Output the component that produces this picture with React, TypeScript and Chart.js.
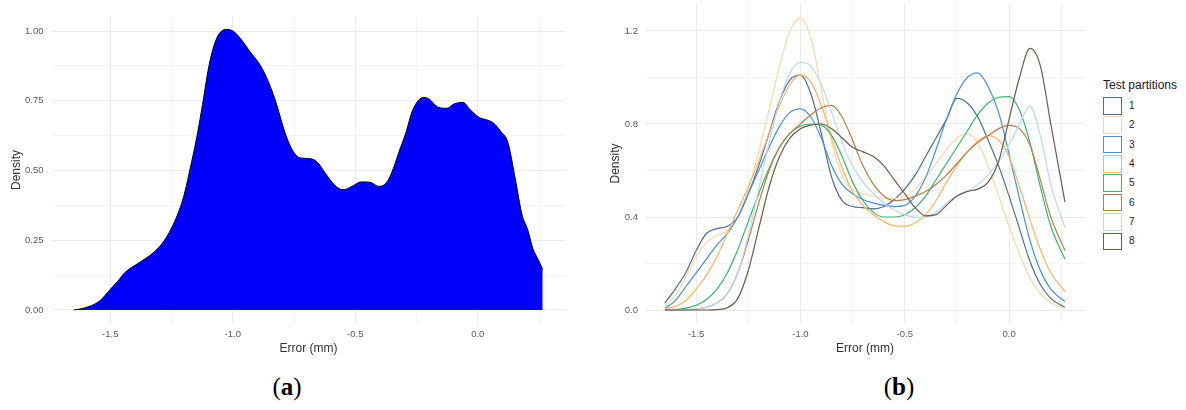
import React, { useEffect, useRef } from 'react';
import { Chart, registerables } from 'chart.js';

Chart.register(...registerables);

// ---------- Panel (a): overall error density ----------
const errA = [-1.649, -1.602, -1.544, -1.5, -1.463, -1.442, -1.383, -1.325, -1.281, -1.237, -1.2, -1.178, -1.149, -1.127, -1.098, -1.076, -1.054, -1.025, -0.996, -0.959, -0.93, -0.893, -0.864, -0.827, -0.784, -0.754, -0.725, -0.681, -0.652, -0.623, -0.586, -0.55, -0.513, -0.477, -0.44, -0.404, -0.374, -0.352, -0.323, -0.294, -0.265, -0.221, -0.199, -0.162, -0.126, -0.096, -0.06, -0.031, 0.006, 0.035, 0.064, 0.094, 0.123, 0.152, 0.181, 0.203, 0.225, 0.247, 0.265];
const densA = [0, 0.008, 0.032, 0.074, 0.11, 0.133, 0.169, 0.205, 0.247, 0.318, 0.408, 0.491, 0.61, 0.718, 0.872, 0.95, 0.992, 1.006, 0.998, 0.962, 0.926, 0.884, 0.837, 0.753, 0.628, 0.569, 0.545, 0.542, 0.527, 0.491, 0.449, 0.431, 0.443, 0.459, 0.458, 0.443, 0.455, 0.491, 0.563, 0.634, 0.718, 0.762, 0.756, 0.727, 0.723, 0.739, 0.744, 0.718, 0.69, 0.682, 0.67, 0.64, 0.6, 0.475, 0.34, 0.29, 0.22, 0.18, 0.145];

const xMajorA = [-1.5, -1.0, -0.5, 0.0];
const xMajorLabelsA = ['-1.5', '-1.0', '-0.5', '0.0'];
const xMinorA = [-1.25, -0.75, -0.25, 0.25];
const yMajorA = [0, 0.25, 0.5, 0.75, 1.0];
const yMajorLabelsA = ['0.00', '0.25', '0.50', '0.75', '1.00'];
const yMinorA = [0.125, 0.375, 0.625, 0.875];

// ---------- Panel (b): density per test partition ----------
const errB = [-1.65, -1.6, -1.55, -1.5, -1.45, -1.4, -1.35, -1.3, -1.25, -1.2, -1.15, -1.1, -1.05, -1.0, -0.95, -0.9, -0.85, -0.8, -0.75, -0.7, -0.65, -0.6, -0.55, -0.5, -0.45, -0.4, -0.35, -0.3, -0.25, -0.2, -0.15, -0.1, -0.05, 0.0, 0.05, 0.1, 0.15, 0.2, 0.268];
const part1 = [0.03, 0.09, 0.16, 0.255, 0.33, 0.35, 0.36, 0.40, 0.50, 0.62, 0.76, 0.90, 0.99, 1.01, 0.93, 0.76, 0.57, 0.47, 0.445, 0.44, 0.435, 0.445, 0.475, 0.52, 0.58, 0.66, 0.74, 0.82, 0.91, 0.89, 0.83, 0.73, 0.62, 0.49, 0.35, 0.21, 0.11, 0.05, 0.011];
const part2 = [0.017, 0.06, 0.14, 0.23, 0.29, 0.32, 0.34, 0.40, 0.52, 0.68, 0.86, 1.05, 1.20, 1.255, 1.17, 0.95, 0.72, 0.58, 0.52, 0.50, 0.49, 0.48, 0.48, 0.49, 0.52, 0.57, 0.63, 0.69, 0.74, 0.76, 0.72, 0.62, 0.49, 0.36, 0.24, 0.14, 0.07, 0.03, 0.007];
const part3 = [0.008, 0.04, 0.10, 0.16, 0.22, 0.28, 0.33, 0.40, 0.50, 0.60, 0.70, 0.79, 0.85, 0.865, 0.83, 0.74, 0.62, 0.54, 0.50, 0.475, 0.46, 0.45, 0.445, 0.45, 0.49, 0.57, 0.69, 0.82, 0.93, 1.00, 1.02, 0.96, 0.85, 0.67, 0.48, 0.30, 0.17, 0.09, 0.036];
const part4 = [0.005, 0.015, 0.04, 0.09, 0.15, 0.23, 0.33, 0.43, 0.53, 0.64, 0.76, 0.88, 0.97, 1.01, 0.98, 0.88, 0.74, 0.61, 0.51, 0.45, 0.41, 0.38, 0.362, 0.36, 0.375, 0.41, 0.47, 0.55, 0.62, 0.68, 0.725, 0.75, 0.73, 0.66, 0.53, 0.39, 0.26, 0.16, 0.079];
const part5 = [0, 0.002, 0.008, 0.02, 0.045, 0.09, 0.16, 0.26, 0.38, 0.50, 0.61, 0.70, 0.76, 0.79, 0.80, 0.795, 0.75, 0.66, 0.55, 0.47, 0.42, 0.40, 0.40, 0.41, 0.44, 0.49, 0.56, 0.63, 0.70, 0.77, 0.84, 0.89, 0.915, 0.918, 0.86, 0.72, 0.53, 0.36, 0.218];
const part6 = [0, 0, 0.001, 0.004, 0.012, 0.03, 0.07, 0.16, 0.30, 0.46, 0.60, 0.70, 0.76, 0.80, 0.84, 0.87, 0.88, 0.83, 0.73, 0.62, 0.54, 0.49, 0.47, 0.475, 0.49, 0.51, 0.54, 0.58, 0.63, 0.68, 0.72, 0.75, 0.78, 0.794, 0.78, 0.71, 0.56, 0.40, 0.255];
const part7 = [0, 0, 0.002, 0.005, 0.012, 0.03, 0.07, 0.16, 0.32, 0.52, 0.72, 0.90, 1.02, 1.065, 1.05, 0.97, 0.85, 0.72, 0.62, 0.55, 0.50, 0.46, 0.43, 0.41, 0.40, 0.40, 0.42, 0.46, 0.49, 0.51, 0.54, 0.58, 0.64, 0.71, 0.80, 0.877, 0.75, 0.54, 0.354];
const part8 = [0, 0, 0, 0, 0, 0.002, 0.01, 0.05, 0.17, 0.35, 0.53, 0.66, 0.74, 0.78, 0.795, 0.80, 0.78, 0.74, 0.70, 0.68, 0.66, 0.62, 0.56, 0.50, 0.44, 0.405, 0.41, 0.45, 0.49, 0.51, 0.52, 0.55, 0.64, 0.82, 1.0, 1.125, 1.05, 0.80, 0.464];
const partSeries = [part1, part2, part3, part4, part5, part6, part7, part8];
const partLabels = ['1', '2', '3', '4', '5', '6', '7', '8'];
const partColors = ['#4e6d93', '#ffd5ad', '#4a8fdc', '#fdb366', '#3cb470', '#b47f48', '#bcd8f5', '#6d5b4c'];

const xMajorB = [-1.5, -1.0, -0.5, 0.0];
const xMajorLabelsB = ['-1.5', '-1.0', '-0.5', '0.0'];
const xMinorB = [-1.25, -0.75, -0.25, 0.25];
const yMajorB = [0, 0.4, 0.8, 1.2];
const yMajorLabelsB = ['0.0', '0.4', '0.8', '1.2'];
const yMinorB = [0.2, 0.6, 1.0];

const FONT = "'Liberation Sans', Arial, sans-serif";
const TICK_COLOR = '#5a5a5a';
const TITLE_COLOR = '#333333';
const GRID_MAJOR = '#ebebeb';
const GRID_MINOR = '#f3f3f3';

function near(a: number, b: number) {
  return Math.abs(a - b) < 1e-6;
}

function makeAxis(opts: {
  axis: 'x' | 'y';
  min: number;
  max: number;
  major: number[];
  majorLabels: string[];
  minor: number[];
  size: number;
  tickPad: number;
  title: string;
  titlePad: number;
}) {
  const all = [...opts.minor, ...opts.major].sort((a, b) => a - b);
  const isX = opts.axis === 'x';
  return {
    type: 'linear',
    min: opts.min,
    max: opts.max,
    afterBuildTicks: (scale: any) => {
      scale.ticks = all.map((v) => ({ value: v }));
    },
    afterFit: (scale: any) => {
      if (isX) scale.height = opts.size;
      else scale.width = opts.size;
      scale.paddingTop = 0;
      scale.paddingBottom = 0;
      scale.paddingLeft = 0;
      scale.paddingRight = 0;
    },
    border: { display: false },
    grid: {
      drawTicks: false,
      color: (ctx: any) => (opts.major.some((m) => near(m, ctx.tick?.value)) ? GRID_MAJOR : GRID_MINOR),
      lineWidth: 1,
    },
    ticks: {
      autoSkip: false,
      maxRotation: 0,
      padding: opts.tickPad,
      color: TICK_COLOR,
      font: { family: FONT, size: 9.5 },
      callback: (value: number) => {
        const idx = opts.major.findIndex((m) => near(m, value));
        return idx >= 0 ? opts.majorLabels[idx] : '';
      },
    },
    title: {
      display: true,
      text: opts.title,
      color: TITLE_COLOR,
      font: { family: FONT, size: 12 },
      padding: isX ? { top: 0, bottom: opts.titlePad } : { top: opts.titlePad, bottom: 0 },
    },
  };
}

export default function App() {
  const refA = useRef<HTMLCanvasElement | null>(null);
  const refB = useRef<HTMLCanvasElement | null>(null);

  useEffect(() => {
    const chartA = new Chart(refA.current as HTMLCanvasElement, {
      type: 'line',
      data: {
        datasets: [
          {
            label: 'Density',
            data: errA.map((x, i) => ({ x, y: densA[i] })),
            borderColor: '#000000',
            borderWidth: 1,
            backgroundColor: '#0000ff',
            fill: 'origin',
            pointRadius: 0,
            cubicInterpolationMode: 'monotone',
          },
        ],
      },
      options: {
        responsive: false,
        animation: false,
        layout: { padding: { top: 16, right: 25, left: 0, bottom: 0 } },
        plugins: { legend: { display: false }, tooltip: { enabled: false } },
        scales: {
          x: makeAxis({ axis: 'x', min: -1.738, max: 0.356, major: xMajorA, majorLabels: xMajorLabelsA, minor: xMinorA, size: 36, tickPad: 5, title: 'Error (mm)', titlePad: 4.5 }),
          y: makeAxis({ axis: 'y', min: -0.0502, max: 1.0538, major: yMajorA, majorLabels: yMajorLabelsA, minor: yMinorA, size: 52, tickPad: 8.5, title: 'Density', titlePad: 9.5 }),
        } as any,
      },
    } as any);

    const chartB = new Chart(refB.current as HTMLCanvasElement, {
      type: 'line',
      data: {
        datasets: partSeries.map((s, k) => ({
          label: partLabels[k],
          data: errB.map((x, i) => ({ x, y: s[i] })),
          borderColor: partColors[k],
          backgroundColor: partColors[k],
          borderWidth: 1.2,
          fill: false,
          pointRadius: 0,
          cubicInterpolationMode: 'monotone',
          order: partSeries.length - k,
        })),
      },
      options: {
        responsive: false,
        animation: false,
        layout: { padding: { top: 3, right: 15, left: 0, bottom: 0 } },
        plugins: { legend: { display: false }, tooltip: { enabled: false } },
        scales: {
          x: makeAxis({ axis: 'x', min: -1.745, max: 0.364, major: xMajorB, majorLabels: xMajorLabelsB, minor: xMinorB, size: 36, tickPad: 5, title: 'Error (mm)', titlePad: 4 }),
          y: makeAxis({ axis: 'y', min: -0.0602, max: 1.3204, major: yMajorB, majorLabels: yMajorLabelsB, minor: yMinorB, size: 55, tickPad: 7, title: 'Density', titlePad: 18.8 }),
        } as any,
      },
    } as any);

    return () => {
      chartA.destroy();
      chartB.destroy();
    };
  }, []);

  const legendTop = 97;
  const legendStep = 19.37;
  const captionStyle: React.CSSProperties = {
    position: 'absolute',
    top: 372,
    transform: 'translateX(-50%)',
    fontFamily: "'Liberation Serif', 'DejaVu Serif', serif",
    fontSize: 25,
    lineHeight: '30px',
    color: '#000',
    whiteSpace: 'nowrap',
  };

  return (
    <div style={{ position: 'absolute', left: 0, top: 0, width: 1186, height: 410, background: '#ffffff', overflow: 'hidden' }}>
      <canvas ref={refA} width={590} height={360} style={{ position: 'absolute', left: 0, top: 0, width: 590, height: 360 }} />
      <canvas ref={refB} width={510} height={360} style={{ position: 'absolute', left: 590, top: 0, width: 510, height: 360 }} />

      <div style={{ position: 'absolute', left: 1103, top: 78, fontFamily: FONT, fontSize: 12, lineHeight: '14px', color: '#1a1a1a', whiteSpace: 'nowrap' }}>
        Test partitions
      </div>
      {partLabels.map((lab, k) => (
        <React.Fragment key={lab}>
          <div
            style={{
              position: 'absolute',
              left: 1103,
              top: legendTop + k * legendStep,
              width: 19,
              height: 17.6,
              boxSizing: 'border-box',
              border: `1.6px solid ${partColors[k]}`,
              background: '#ffffff',
            }}
          />
          <div
            style={{
              position: 'absolute',
              left: 1129,
              top: legendTop + k * legendStep + 2.8,
              fontFamily: FONT,
              fontSize: 10,
              lineHeight: '12px',
              color: '#1a1a1a',
            }}
          >
            {lab}
          </div>
        </React.Fragment>
      ))}

      <div style={{ ...captionStyle, left: 287 }}>
        (<b>a</b>)
      </div>
      <div style={{ ...captionStyle, left: 899 }}>
        (<b>b</b>)
      </div>
    </div>
  );
}
